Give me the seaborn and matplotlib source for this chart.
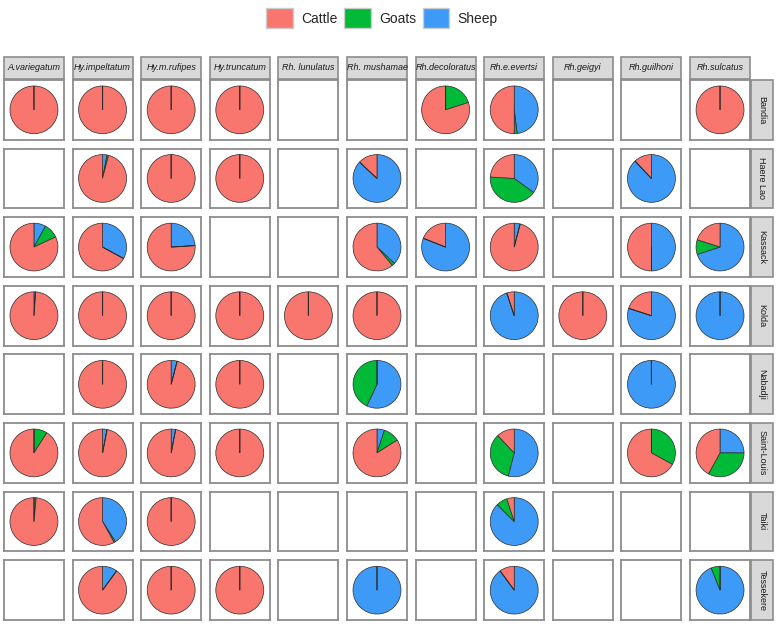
import pandas as pd
import matplotlib.pyplot as plt
import seaborn as sns
from matplotlib.patches import Patch, Rectangle

species = ["A.variegatum", "Hy.impeltatum", "Hy.m.rufipes", "Hy.truncatum", "Rh. lunulatus",
           "Rh. mushamae", "Rh.decoloratus", "Rh.e.evertsi", "Rh.geigyi", "Rh.guilhoni", "Rh.sulcatus"]
sites = ["Bandia", "Haere Lao", "Kassack", "Kolda", "Nabadji", "Saint-Louis", "Taiki", "Tessekere"]
animals = ["Cattle", "Goats", "Sheep"]
colors = {"Cattle": "#F8766D", "Goats": "#00BA38", "Sheep": "#3D9BF7"}

N = None
# share of each host per site (rows) and tick species (columns), None = no data
cattle = [
    [1, 1, 1, 1, N, N, .80, .50, N, N, 1],
    [N, .96, 1, 1, N, .13, N, .24, N, .12, N],
    [.82, .67, .76, N, N, .61, .19, .96, N, .50, .20],
    [.99, 1, 1, 1, 1, 1, N, .05, 1, .20, 0],
    [N, 1, .96, 1, N, 0, N, N, N, 0, N],
    [.91, .97, .97, 1, N, .84, N, .12, N, .67, .42],
    [.985, .58, 1, N, N, N, N, .05, N, N, N],
    [N, .90, 1, 1, N, 0, N, .10, N, N, 0],
]
goats = [
    [0, 0, 0, 0, N, N, .20, .02, N, N, 0],
    [N, .01, 0, 0, N, 0, N, .41, N, 0, N],
    [.10, 0, 0, N, N, .02, 0, 0, N, 0, .10],
    [0, 0, 0, 0, 0, 0, N, 0, 0, 0, 0],
    [N, 0, 0, 0, N, .43, N, N, N, 0, N],
    [.09, 0, 0, 0, N, .11, N, .34, N, .33, .33],
    [.015, .01, 0, N, N, N, N, .075, N, N, N],
    [N, 0, 0, 0, N, 0, N, 0, N, N, .06],
]
sheep = [
    [0, 0, 0, 0, N, N, 0, .48, N, N, 0],
    [N, .03, 0, 0, N, .87, N, .35, N, .88, N],
    [.08, .33, .24, N, N, .37, .81, .04, N, .50, .70],
    [.01, 0, 0, 0, 0, 0, N, .95, 0, .80, 1],
    [N, 0, .04, 0, N, .57, N, N, N, 1, N],
    [0, .03, .03, 0, N, .05, N, .54, N, 0, .25],
    [0, .41, 0, N, N, N, N, .875, N, N, N],
    [N, .10, 0, 0, N, 1, N, .90, N, N, .94],
]

rows = []
for i, site in enumerate(sites):
    for j, sp in enumerate(species):
        if cattle[i][j] is None:
            continue
        for animal, arr in zip(animals, [cattle, goats, sheep]):
            rows.append({"site": site, "species": sp, "animal": animal, "share": arr[i][j]})
df = pd.DataFrame(rows)

sns.set_theme(style="white")
plt.rcParams["font.family"] = ["Liberation Sans", "DejaVu Sans"]


def draw_pie(data, **kws):
    vals = data.set_index("animal").reindex(["Sheep", "Goats", "Cattle"])["share"]
    ax = plt.gca()
    wedges, _ = ax.pie(vals.values, colors=[colors[a] for a in vals.index], startangle=90,
                       counterclock=False, frame=True, radius=1,
                       wedgeprops={"edgecolor": "#2b2b2b", "linewidth": 0.5})
    # empty slices show up as a dark line, keep them on top
    for w, v in zip(wedges, vals.values):
        if v == 0:
            w.set_zorder(3)
            w.set_linewidth(0.7)


g = sns.FacetGrid(df, row="site", col="species", row_order=sites, col_order=species,
                  height=0.6, aspect=1, sharex=False, sharey=False, despine=False)
g.map_dataframe(draw_pie)
g.set_titles("")
fig = g.figure
fig.set_size_inches(7.78, 6.26)
fig.subplots_adjust(left=4 / 778, right=750 / 778, top=1 - 80 / 626, bottom=1 - 620 / 626,
                    wspace=0.145, hspace=0.15)

for ax in g.axes.flat:
    ax.set_xlim(-1.25, 1.25)
    ax.set_ylim(-1.25, 1.25)
    ax.set_aspect("equal", adjustable="datalim")
    ax.set_xticks([])
    ax.set_yticks([])
    ax.set_xlabel("")
    ax.set_ylabel("")
    ax.set_facecolor("white")
    for s in ax.spines.values():
        s.set_visible(True)
        s.set_color("#8C8C8C")
        s.set_linewidth(1.3)

# top strips
sh = 21 / 626
for j, sp in enumerate(species):
    pos = g.axes[0, j].get_position()
    y0 = pos.y1 + 1.5 / 626
    fig.add_artist(Rectangle((pos.x0, y0), pos.width, sh, transform=fig.transFigure,
                             fc="#D9D9D9", ec="#8C8C8C", lw=1.2))
    fig.text(pos.x0 + pos.width / 2, y0 + sh / 2, sp, ha="center", va="center",
             style="italic", fontsize=6.5, color="#1A1A1A")

# right strips
sw = 22 / 778
for i, site in enumerate(sites):
    pos = g.axes[i, -1].get_position()
    x0 = pos.x1 + 1 / 778
    fig.add_artist(Rectangle((x0, pos.y0), sw, pos.height, transform=fig.transFigure,
                             fc="#D9D9D9", ec="#8C8C8C", lw=1.2))
    fig.text(x0 + sw / 2, pos.y0 + pos.height / 2, site, ha="center", va="center",
             rotation=-90, fontsize=6.5, color="#1A1A1A")

handles = [Patch(fc=colors[a], ec="#CCCCCC", label=a) for a in animals]
fig.legend(handles=handles, loc="center", bbox_to_anchor=(0.491, 0.971), ncol=3,
           frameon=False, fontsize=10, handlelength=1.9, handleheight=1.9,
           handletextpad=0.6, columnspacing=0.5)

fig.savefig("out.png", dpi=100)
